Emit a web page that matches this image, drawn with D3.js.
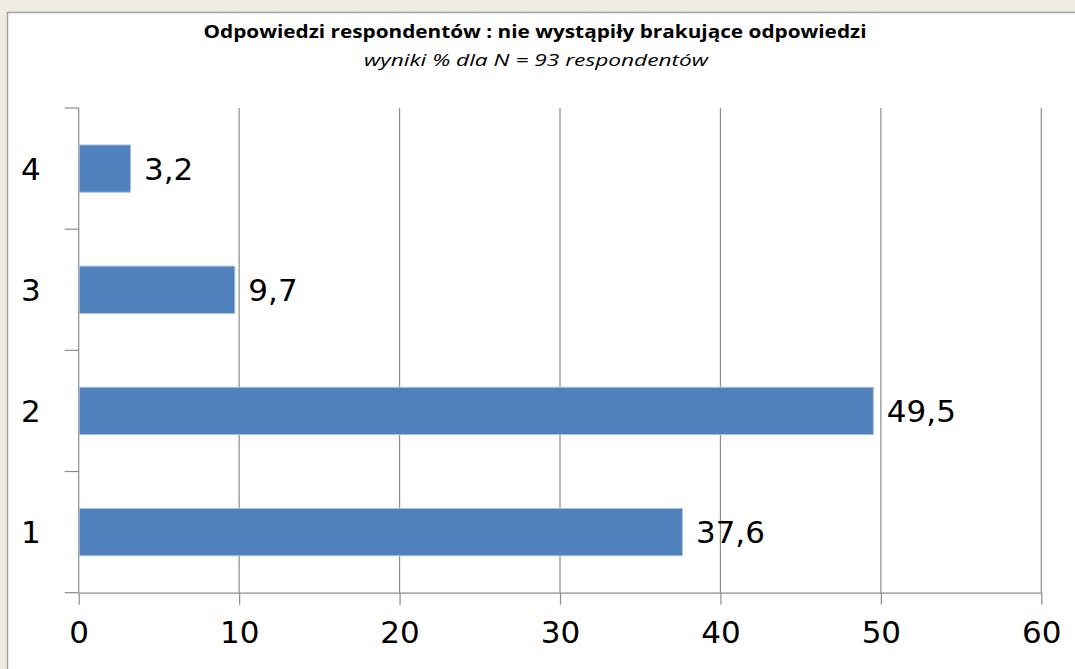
<!DOCTYPE html>
<html>
<head>
<meta charset="utf-8">
<script src="https://cdn.jsdelivr.net/npm/d3@7"></script>
<style>
  html, body { margin: 0; padding: 0; background: #eeebe0; }
  svg { display: block; }
</style>
</head>
<body>
<div id="chart"></div>
<script>
// categories (bottom to top) and their values in %
let categories = ["1", "2", "3", "4"];
let values = [37.6, 49.5, 9.7, 3.2];
let valueLabels = ["37,6", "49,5", "9,7", "3,2"];
let xTicks = [0, 10, 20, 30, 40, 50, 60];

let titleText = "Odpowiedzi  respondentów : nie wystąpiły brakujące odpowiedzi";
let subtitleText = "wyniki % dla N = 93 respondentów";

function init() {
  let W = 1075, H = 669;
  let margin = {top: 108, left: 78.7, right: 1075 - 1041.3, bottom: 669 - 592.7};
  let width = W - margin.left - margin.right,
      height = H - margin.top - margin.bottom;

  let svg = d3.select("#chart").append("svg")
    .attr("width", W)
    .attr("height", H);

  // chart area box
  svg.append("rect")
    .attr("x", 7.5).attr("y", 12.5)
    .attr("width", W + 20).attr("height", H + 20)
    .attr("fill", "#ffffff")
    .attr("stroke", "#a3a3a3")
    .attr("stroke-width", 1.5);

  // titles
  svg.append("text")
    .attr("x", 535).attr("y", 38)
    .attr("text-anchor", "middle")
    .attr("font-family", "Open Sans")
    .attr("font-weight", "bold")
    .attr("font-size", 17)
    .attr("textLength", 663)
    .attr("lengthAdjust", "spacingAndGlyphs")
    .attr("fill", "#000")
    .text(titleText);

  svg.append("text")
    .attr("x", 536).attr("y", 66)
    .attr("text-anchor", "middle")
    .attr("font-family", "Open Sans")
    .attr("font-style", "italic")
    .attr("font-size", 16)
    .attr("textLength", 344)
    .attr("lengthAdjust", "spacingAndGlyphs")
    .attr("fill", "#000")
    .text(subtitleText);

  let g = svg.append("g")
    .attr("transform", "translate(" + margin.left + "," + margin.top + ")");

  let x = d3.scaleLinear()
    .domain([0, 60])
    .range([0, width]);

  let y = d3.scaleBand()
    .domain(categories.slice().reverse())
    .range([0, height])
    .paddingInner(0.61)
    .paddingOuter(0.305);

  let lineColor = "#8c8c8c";

  // vertical gridlines
  g.append("g")
    .selectAll("line")
    .data(xTicks.slice(1))
    .enter()
    .append("line")
      .attr("x1", d => x(d)).attr("x2", d => x(d))
      .attr("y1", 0).attr("y2", height)
      .attr("stroke", lineColor)
      .attr("stroke-width", 1.2);

  // x axis
  let xAxis = g.append("g")
    .attr("transform", "translate(0," + height + ")")
    .call(d3.axisBottom(x).tickValues(xTicks).tickSize(12).tickPadding(16).tickSizeOuter(0));
  xAxis.select(".domain").attr("stroke", lineColor).attr("stroke-width", 1.2);
  xAxis.selectAll(".tick line").attr("stroke", lineColor).attr("stroke-width", 1.2);
  xAxis.selectAll(".tick text")
    .attr("font-family", "DejaVu Sans")
    .attr("font-size", 31)
    .attr("fill", "#000");

  // y axis (ticks on category boundaries)
  let boundaries = d3.range(categories.length + 1).map(i => i * y.step());
  g.append("line")
    .attr("x1", 0).attr("x2", 0)
    .attr("y1", 0).attr("y2", height)
    .attr("stroke", lineColor)
    .attr("stroke-width", 1.2);
  g.append("g")
    .selectAll("line")
    .data(boundaries)
    .enter()
    .append("line")
      .attr("x1", -14).attr("x2", 0)
      .attr("y1", d => d).attr("y2", d => d)
      .attr("stroke", lineColor)
      .attr("stroke-width", 1.2);

  g.append("g")
    .selectAll("text")
    .data(categories)
    .enter()
    .append("text")
      .attr("x", -38)
      .attr("y", d => y(d) + y.bandwidth() / 2)
      .attr("dy", "0.36em")
      .attr("text-anchor", "end")
      .attr("font-family", "DejaVu Sans")
      .attr("font-size", 31)
      .attr("fill", "#000")
      .text(d => d);

  // bars
  g.append("g")
    .selectAll("rect")
    .data(categories)
    .enter()
    .append("rect")
      .attr("x", x(0) + 0.5)
      .attr("y", d => y(d))
      .attr("width", (d, i) => x(values[i]) - x(0))
      .attr("height", y.bandwidth())
      .attr("fill", "#4f81bd")
      .attr("stroke", "#a9c0de")
      .attr("stroke-width", 1);

  // value labels
  g.append("g")
    .selectAll("text")
    .data(categories)
    .enter()
    .append("text")
      .attr("x", (d, i) => x(values[i]) + 14)
      .attr("y", d => y(d) + y.bandwidth() / 2)
      .attr("dy", "0.36em")
      .attr("font-family", "DejaVu Sans")
      .attr("font-size", 31)
      .attr("fill", "#000")
      .text((d, i) => valueLabels[i]);
}

init();
</script>
</body>
</html>
